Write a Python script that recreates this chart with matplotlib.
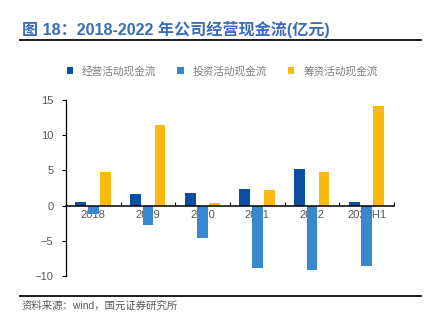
import matplotlib
matplotlib.use("Agg")
import matplotlib.pyplot as plt
from matplotlib.lines import Line2D
import numpy as np

plt.rcParams['font.family'] = ['Liberation Sans', 'Noto Sans CJK SC', 'DejaVu Sans']

# Annual cash flow data (100 million yuan)
years = ["2018", "2019", "2020", "2021", "2022", "2023H1"]
operating = [0.5, 1.7, 1.75, 2.3, 5.15, 0.5]
investing = [-1.15, -2.75, -4.6, -8.9, -9.1, -8.65]
financing = [4.8, 11.45, 0.37, 2.2, 4.8, 14.1]
series_names = ["经营活动现金流", "投资活动现金流", "筹资活动现金流"]
colors = ["#0B4EA2", "#3A87CF", "#F9B90F"]

W, H = 434, 326
fig = plt.figure(figsize=(W / 100, H / 100), dpi=100)
ax = fig.add_axes([66 / W, 1 - 276 / H, (394 - 66) / W, (276 - 100) / H])

x = np.arange(len(years))
bw = 0.2
offs = [-0.23, 0.0, 0.22]
handles = []
for vals, off, c, name in zip([operating, investing, financing], offs, colors, series_names):
    b = ax.bar(x + off, vals, width=bw, color=c, label=name, zorder=2)
    handles.append(b)

ax.set_xlim(-0.5, len(years) - 0.5)
ax.set_ylim(-10, 15)
ax.set_yticks([-10, -5, 0, 5, 10, 15])
ax.tick_params(axis='y', direction='out', length=3, width=0.8, colors='black',
               labelcolor='#595959', labelsize=8, pad=6)

# zero axis line with boundary ticks pointing up, labels centred under each group
ax.spines['bottom'].set_position(('data', 0))
ax.spines['bottom'].set_linewidth(1.1)
ax.spines['bottom'].set_zorder(3)
ax.spines['top'].set_visible(False)
ax.spines['right'].set_visible(False)
ax.spines['left'].set_linewidth(0.9)
ax.set_xticks(np.arange(len(years) + 1) - 0.5)
ax.set_xticklabels([])
ax.tick_params(axis='x', which='major', direction='in', length=3, width=0.8)
ax.set_xticks(x, minor=True)
ax.set_xticklabels(years, minor=True)
ax.tick_params(axis='x', which='minor', length=0, labelcolor='#595959',
               labelsize=8, pad=3)

leg = fig.legend(handles=handles, labels=series_names, loc='center',
                 bbox_to_anchor=(222 / W, 1 - 71 / H), ncol=3, frameon=False,
                 handlelength=0.6, handleheight=0.6, handletextpad=0.8,
                 columnspacing=2.0, fontsize=7.7, labelcolor='#7F7F7F')

# title and rules
fig.text(22 / W, 1 - 29 / H, "图 18：2018-2022 年公司经营现金流(亿元)",
         fontsize=11.6, fontweight='bold', color='#3A6DB5', va='center', ha='left',
         family=['Liberation Sans', 'Noto Sans CJK SC'])
fig.add_artist(Line2D([20 / W, 421 / W], [1 - 40 / H, 1 - 40 / H], color='#1A1A1A', lw=1.4))
fig.add_artist(Line2D([20 / W, 421 / W], [1 - 296 / H, 1 - 296 / H], color='#1A1A1A', lw=1.4))
fig.text(22 / W, 1 - 306 / H, "资料来源：wind，国元证券研究所", fontsize=7.5,
         color='#595959', va='center', ha='left')

fig.savefig("out.png", dpi=100)
